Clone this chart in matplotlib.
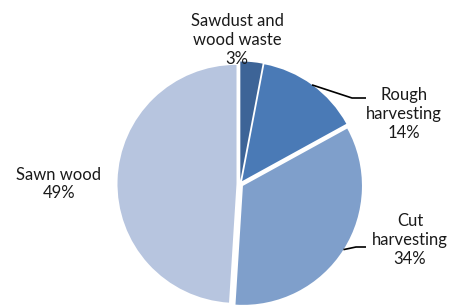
import numpy as np
import matplotlib
matplotlib.use("Agg")
import matplotlib.pyplot as plt

labels = ["Sawdust and\nwood waste", "Rough\nharvesting", "Cut\nharvesting", "Sawn wood"]
values = [3, 14, 34, 49]
colors = ["#3D6497", "#4A7AB6", "#7F9FCB", "#B7C5DF"]

plt.rcParams['font.family'] = ['Lato', 'DejaVu Sans']

H = 305
fig = plt.figure(figsize=(4.58, 3.05), dpi=100)
ax = fig.add_axes([0, 0, 1, 1])

cx, cy, R = 240, H - 184, 119
explode = [3.5] * len(values)   # data units (pixels)
wedges, _ = ax.pie(values, colors=colors, startangle=90, counterclock=False,
                   center=(cx, cy), radius=R, explode=explode,
                   wedgeprops=dict(linewidth=0), frame=False)
ax.set_xlim(0, 458)
ax.set_ylim(0, H)
ax.set_aspect('equal')
ax.axis('off')

# label positions (text centres, pixel coords from top) and leader-line ends
label_pos = [(237, 40), (404, 114), (410, 240), (59, 184)]
leaders = {1: (352, 98, 366), 2: (356, 247, 366)}

for i, (w, lab, v) in enumerate(zip(wedges, labels, values)):
    tx, ty = label_pos[i]
    ax.text(tx, H - ty, f"{lab}\n{v}%", ha='center', va='center', fontsize=12,
            color='#1a1a1a', linespacing=1.2)
    if i in leaders:
        ang = np.deg2rad((w.theta1 + w.theta2) / 2)
        ex = w.center[0] + R * np.cos(ang)
        ey = w.center[1] + R * np.sin(ang)
        mx, my, hx = leaders[i]
        ax.plot([ex, mx, hx], [ey, H - my, H - my], color='black', lw=1.2,
                solid_capstyle='butt')

fig.savefig("out.png", dpi=100)
